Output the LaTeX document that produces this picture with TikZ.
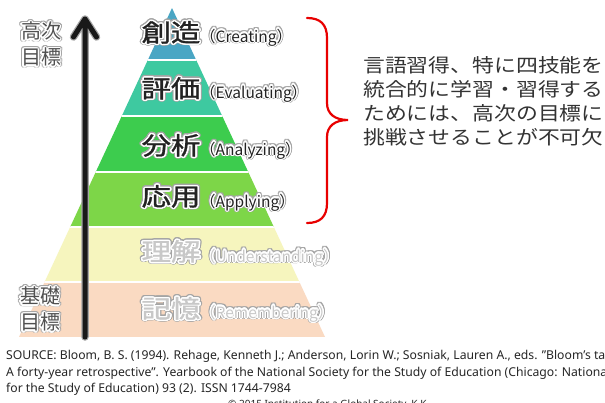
\documentclass[tikz,border=0pt]{standalone}
\usepackage{fontspec}
\setmainfont{Noto Sans}
\newfontfamily\jp{Noto Sans CJK JP}
\newfontfamily\jpb[FakeBold=1.2]{Noto Sans CJK JP}
\usepackage[copies]{contour}
\usetikzlibrary{arrows.meta}
\definecolor{cCreate}{RGB}{74,166,196}
\definecolor{cEval}{RGB}{62,201,160}
\definecolor{cAnal}{RGB}{61,204,78}
\definecolor{cApply}{RGB}{125,214,72}
\definecolor{cUnder}{RGB}{246,245,190}
\definecolor{cRemem}{RGB}{250,218,194}
\definecolor{darktext}{RGB}{34,34,34}
\definecolor{lighttext}{RGB}{200,200,200}
\definecolor{sidetext}{RGB}{80,80,80}
\definecolor{glowout}{RGB}{165,165,165}
\definecolor{bracered}{RGB}{232,0,0}
\definecolor{paratext}{RGB}{51,51,51}
\newcommand\glowlabel[5]{%
  \node[#3, text=glowout] at #2 {\scalebox{#5}[1]{\contourlength{2.3pt}\contour{glowout}{#4}}};
  \node[#3] (#1) at #2 {\scalebox{#5}[1]{\contourlength{1.3pt}\contour{white}{#4}}};
}
\tikzset{
  bigjp/.style={inner sep=0pt, font=\jpb\fontsize{24.5}{26}\selectfont, text=darktext},
  bigjplight/.style={bigjp, text=lighttext},
  smalllat/.style={inner sep=0pt, anchor=west, font=\jp\fontsize{15.5}{17}\selectfont, text=darktext},
  smalllatlight/.style={smalllat, text=lighttext},
  sidelabel/.style={inner sep=0pt, font=\jp\fontsize{20}{22}\selectfont, text=sidetext},
  para/.style={inner sep=0pt, anchor=west, font=\jp\fontsize{19}{22}\selectfont, text=paratext},
  src/.style={inner sep=0pt, anchor=base west, font=\fontsize{12.2}{14}\selectfont, text=black!85},
  sep/.style={white, line width=1.6pt},
}
\begin{document}
\begin{tikzpicture}[x=1pt,y=-1pt]
\useasboundingbox (0,0) rectangle (605,402);
\clip (0,0) rectangle (605,402);
\fill[white] (0,0) rectangle (605,402);
% pyramid
\begin{scope}
  \clip (172,8) -- (325,337) -- (19,337) -- cycle;
  \fill[cCreate] (0,0) rectangle (605,60);
  \fill[cEval] (0,60) rectangle (605,116);
  \fill[cAnal] (0,116) rectangle (605,172);
  \fill[cApply] (0,172) rectangle (605,227);
  \fill[cUnder] (0,227) rectangle (605,282);
  \fill[cRemem] (0,282) rectangle (605,337);
  \foreach \yy in {60,116,172,227,282} \draw[sep] (0,\yy) -- (605,\yy);
\end{scope}
% arrow
\coordinate (arrowtip) at (85,19);
\coordinate (arrowbase) at (85,337);
\coordinate (headL) at (73.5,37);
\coordinate (headR) at (96.5,37);
\draw[glowout, line width=7.5pt, line join=round, line cap=round] (arrowbase) -- (arrowtip) (headL) -- (arrowtip) -- (headR);
\draw[black!90, line width=5pt, line join=round, line cap=round] (arrowbase) -- (arrowtip) (headL) -- (arrowtip) -- (headR);
% side labels
\glowlabel{hi1}{(41,32)}{sidelabel}{高次}{1}
\glowlabel{hi2}{(41,58)}{sidelabel}{目標}{1}
\glowlabel{lo1}{(40,297)}{sidelabel}{基礎}{1}
\glowlabel{lo2}{(40,323)}{sidelabel}{目標}{1}
% pyramid labels
\glowlabel{create}{(171,33)}{bigjp}{創造}{1.2}
\glowlabel{createS}{(200,38)}{smalllat}{（Creating）}{1}
\glowlabel{eval}{(171,89)}{bigjp}{評価}{1.2}
\glowlabel{evalS}{(200,94)}{smalllat}{（Evaluating）}{1}
\glowlabel{anal}{(171,146)}{bigjp}{分析}{1.2}
\glowlabel{analS}{(200,151)}{smalllat}{（Analyzing）}{1}
\glowlabel{apply}{(171,197)}{bigjp}{応用}{1.2}
\glowlabel{applyS}{(200,203)}{smalllat}{（Applying）}{1}
\glowlabel{under}{(171,252)}{bigjplight}{理解}{1.2}
\glowlabel{underS}{(200,258)}{smalllatlight}{（Understanding）}{1}
\glowlabel{remem}{(171,309)}{bigjplight}{記憶}{1.2}
\glowlabel{rememS}{(200,314)}{smalllatlight}{（Remembering）}{1}
% brace
\coordinate (braceTop) at (307,18);
\coordinate (braceTip) at (348,120);
\coordinate (braceBot) at (307,223);
\draw[bracered, line width=2.2pt, line cap=round]
  (braceTop) .. controls (320,18) and (327,24) .. (327,38) -- (327,103)
  .. controls (327,114) and (335,120) .. (braceTip)
  .. controls (335,120) and (327,126) .. (327,137) -- (327,203)
  .. controls (327,217) and (320,223) .. (braceBot);
% paragraph
\node[para] (p1) at (363,65) {\scalebox{1.15}[1]{言語習得、特に四技能を}};
\node[para] (p2) at (363,89) {\scalebox{1.15}[1]{統合的に学習・習得する}};
\node[para] (p3) at (363,113) {\scalebox{1.15}[1]{ためには、高次の目標に}};
\node[para] (p4) at (363,137) {\scalebox{1.15}[1]{挑戦させることが不可欠}};
% source
\node[src] (s1) at (6,359) {SOURCE: Bloom, B. S. (1994). Rehage, Kenneth J.; Anderson, Lorin W.; Sosniak, Lauren A., eds. \char"22 Bloom's taxonomy:};
\node[src] (s2) at (6,376) {A forty-year retrospective\char"22. Yearbook of the National Society for the Study of Education (Chicago: National Society};
\node[src] (s3) at (6,392) {for the Study of Education) 93 (2). ISSN 1744-7984};
\node[src, font=\fontsize{10}{12}\selectfont] (copy) at (228,407) {© 2015 Institution for a Global Society, K.K.};
\end{tikzpicture}
\end{document}
